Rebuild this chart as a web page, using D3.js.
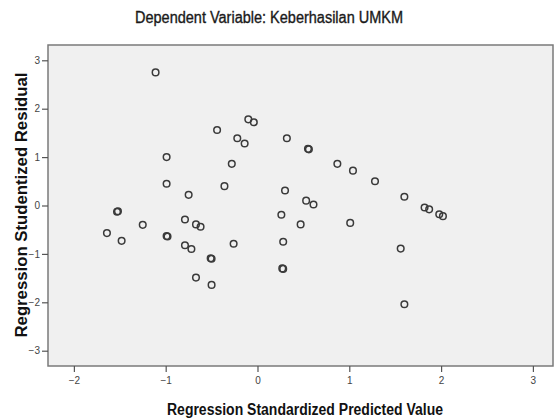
<!DOCTYPE html>
<html><head><meta charset="utf-8">
<script src="https://cdn.jsdelivr.net/npm/d3@7"></script>
<style>body{margin:0;background:#fff}svg{display:block}text{font-family:Arial,"Liberation Sans",sans-serif}</style>
</head><body><svg id="c" width="554" height="420"></svg>
<script>
const title = "Dependent Variable: Keberhasilan UMKM";
const xLabel = "Regression Standardized Predicted Value";
const yLabel = "Regression Studentized Residual";
const xTicks = [-2, -1, 0, 1, 2, 3];
const yTicks = [-3, -2, -1, 0, 1, 2, 3];
const predicted = [-1.11,-0.10,-0.04,-0.44,-0.22,-0.14,0.32,-0.99,-0.28,-0.99,-0.36,-0.75,0.30,-1.53,-1.52,0.26,
  -1.64,-1.48,-1.25,-0.99,-0.98,-0.79,-0.67,-0.62,-0.79,-0.72,-0.51,-0.50,-0.67,-0.50,-0.26,0.28,0.27,0.28,
  0.55,0.56,0.87,1.04,1.28,0.53,0.61,1.60,1.82,1.87,1.98,2.02,0.47,1.01,1.56,1.60];
const residual = [2.75,1.78,1.72,1.56,1.39,1.28,1.39,1.00,0.86,0.45,0.40,0.22,0.31,-0.13,-0.12,-0.19,
  -0.57,-0.73,-0.40,-0.63,-0.64,-0.29,-0.39,-0.44,-0.82,-0.90,-1.09,-1.10,-1.49,-1.64,-0.79,-0.75,-1.30,-1.31,
  1.17,1.16,0.86,0.72,0.50,0.10,0.02,0.18,-0.04,-0.08,-0.18,-0.22,-0.39,-0.36,-0.89,-2.04];

const svg = d3.select("#c");
const L = 48, R = 553, T = 45, B = 366;
const x = d3.scaleLinear().domain([-2.282, 3.219]).range([L, R]);
const y = d3.scaleLinear().domain([-3.316, 3.316]).range([B, T]);

svg.append("rect").attr("x", L).attr("y", T).attr("width", R - L).attr("height", B - T)
  .attr("fill", "#f0f0f0").attr("stroke", "#7a7a7a").attr("stroke-width", 1.5);

const xa = svg.append("g").attr("transform", `translate(0,${B})`)
  .call(d3.axisBottom(x).tickValues(xTicks).tickSize(6).tickPadding(5).tickFormat(d3.format("d")));
const ya = svg.append("g").attr("transform", `translate(${L},0)`)
  .call(d3.axisLeft(y).tickValues(yTicks).tickSize(6).tickPadding(2).tickFormat(d3.format("d")));
[xa, ya].forEach(a => {
  a.select(".domain").remove();
  a.selectAll(".tick line").attr("stroke", "#555").attr("stroke-width", 1.2);
  a.selectAll(".tick text").attr("fill", "#444").style("font-size", "10px");
});

svg.append("g").selectAll("circle").data(predicted.map((p, i) => [p, residual[i]])).join("circle")
  .attr("cx", d => x(d[0])).attr("cy", d => y(d[1])).attr("r", 3.3)
  .attr("fill", "none").attr("stroke", "#3a3a3a").attr("stroke-width", 1.5);

svg.append("text").attr("x", 269).attr("y", 23).attr("text-anchor", "middle")
  .attr("textLength", 268).attr("lengthAdjust", "spacingAndGlyphs")
  .style("font-size", "16px").attr("fill", "#1a1a1a").attr("stroke", "#1a1a1a").attr("stroke-width", 0.35)
  .text(title);
svg.append("text").attr("x", 305).attr("y", 415).attr("text-anchor", "middle")
  .attr("textLength", 276).attr("lengthAdjust", "spacingAndGlyphs")
  .style("font-size", "16px").style("font-weight", "bold").attr("fill", "#111").text(xLabel);
svg.append("text").attr("transform", "translate(27,205) rotate(-90)").attr("text-anchor", "middle")
  .attr("textLength", 265).attr("lengthAdjust", "spacingAndGlyphs")
  .style("font-size", "16px").style("font-weight", "bold").attr("fill", "#111").text(yLabel);
</script></body></html>
